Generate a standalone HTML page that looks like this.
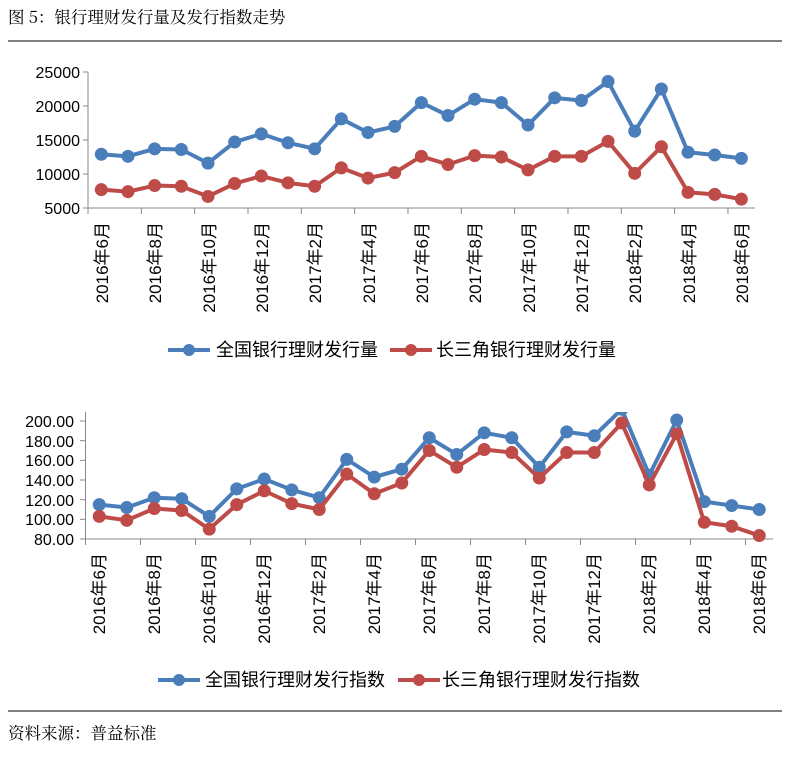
<!DOCTYPE html>
<html><head><meta charset="utf-8"><style>
html,body{margin:0;padding:0;background:#fff;}
svg{display:block;font-family:"Liberation Sans","Noto Sans CJK SC",sans-serif;}
.t{font-family:"Noto Serif CJK SC","WenQuanYi Zen Hei",serif;font-size:16.5px;fill:#000;}
.y{font-size:16px;text-anchor:end;fill:#000;}
.x{font-size:17px;text-anchor:end;fill:#000;}
.l{font-size:18px;fill:#000;font-family:"WenQuanYi Zen Hei","Noto Sans CJK SC",sans-serif;}
</style></head><body>
<svg id="s" width="796" height="758" viewBox="0 0 796 758" xmlns="http://www.w3.org/2000/svg">
<defs><clipPath id="c2"><rect x="80" y="412" width="700" height="140"/></clipPath></defs>
<text class="t" x="8" y="23">图 5：银行理财发行量及发行指数走势</text>
<line x1="8" y1="41" x2="782" y2="41" stroke="#000" stroke-width="1"/>
<line x1="8" y1="711" x2="782" y2="711" stroke="#000" stroke-width="1"/>
<text class="t" x="8" y="739">资料来源：普益标准</text>

<g stroke="#888" stroke-width="1" fill="none" id="ax1">
<line x1="88" y1="72" x2="88" y2="213"/>
<line x1="88" y1="208" x2="755" y2="208"/>
</g>
<g class="y">
<text class="y" x="80" y="78">25000</text>
<text class="y" x="80" y="112">20000</text>
<text class="y" x="80" y="146">15000</text>
<text class="y" x="80" y="180">10000</text>
<text class="y" x="80" y="214">5000</text>
</g>
<g id="xl1">
<text class="x" transform="translate(108,222) rotate(-90)">2016年6月</text>
<text class="x" transform="translate(161,222) rotate(-90)">2016年8月</text>
<text class="x" transform="translate(215,222) rotate(-90)">2016年10月</text>
<text class="x" transform="translate(268,222) rotate(-90)">2016年12月</text>
<text class="x" transform="translate(321,222) rotate(-90)">2017年2月</text>
<text class="x" transform="translate(375,222) rotate(-90)">2017年4月</text>
<text class="x" transform="translate(428,222) rotate(-90)">2017年6月</text>
<text class="x" transform="translate(481,222) rotate(-90)">2017年8月</text>
<text class="x" transform="translate(535,222) rotate(-90)">2017年10月</text>
<text class="x" transform="translate(588,222) rotate(-90)">2017年12月</text>
<text class="x" transform="translate(641,222) rotate(-90)">2018年2月</text>
<text class="x" transform="translate(695,222) rotate(-90)">2018年4月</text>
<text class="x" transform="translate(748,222) rotate(-90)">2018年6月</text>
</g>
<line x1="168" y1="350" x2="210" y2="350" stroke="#4a7ebb" stroke-width="4"/>
<circle cx="189" cy="350" r="6" fill="#4a7ebb"/>
<text class="l" x="216" y="356">全国银行理财发行量</text>
<line x1="390" y1="350" x2="432" y2="350" stroke="#be4b48" stroke-width="4"/>
<circle cx="411" cy="350" r="6" fill="#be4b48"/>
<text class="l" x="436" y="356">长三角银行理财发行量</text>

<g stroke="#888" stroke-width="1" fill="none">
<line x1="85.5" y1="412" x2="85.5" y2="544"/>
<line x1="85.5" y1="539" x2="773" y2="539"/>
</g>
<text class="y" x="74" y="427">200.00</text>
<text class="y" x="74" y="447">180.00</text>
<text class="y" x="74" y="466">160.00</text>
<text class="y" x="74" y="486">140.00</text>
<text class="y" x="74" y="506">120.00</text>
<text class="y" x="74" y="525">100.00</text>
<text class="y" x="74" y="545">80.00</text>
<g>
<text class="x" transform="translate(105,553) rotate(-90)">2016年6月</text>
<text class="x" transform="translate(160,553) rotate(-90)">2016年8月</text>
<text class="x" transform="translate(215,553) rotate(-90)">2016年10月</text>
<text class="x" transform="translate(270,553) rotate(-90)">2016年12月</text>
<text class="x" transform="translate(325,553) rotate(-90)">2017年2月</text>
<text class="x" transform="translate(380,553) rotate(-90)">2017年4月</text>
<text class="x" transform="translate(435,553) rotate(-90)">2017年6月</text>
<text class="x" transform="translate(490,553) rotate(-90)">2017年8月</text>
<text class="x" transform="translate(545,553) rotate(-90)">2017年10月</text>
<text class="x" transform="translate(600,553) rotate(-90)">2017年12月</text>
<text class="x" transform="translate(655,553) rotate(-90)">2018年2月</text>
<text class="x" transform="translate(710,553) rotate(-90)">2018年4月</text>
<text class="x" transform="translate(765,553) rotate(-90)">2018年6月</text>
</g>
<line x1="158" y1="680" x2="200" y2="680" stroke="#4a7ebb" stroke-width="4"/>
<circle cx="179" cy="680" r="6" fill="#4a7ebb"/>
<text class="l" x="205" y="686">全国银行理财发行指数</text>
<line x1="398" y1="680" x2="440" y2="680" stroke="#be4b48" stroke-width="4"/>
<circle cx="419" cy="680" r="6" fill="#be4b48"/>
<text class="l" x="442" y="686">长三角银行理财发行指数</text>
</svg>
<script>
(function(){
var NS="http://www.w3.org/2000/svg",s=document.getElementById("s");
function el(n,a,p){var e=document.createElementNS(NS,n);for(var k in a)e.setAttribute(k,a[k]);(p||s).appendChild(e);return e;}
for(var i=0;i<=12;i++){var x=88+i*53.33;el("line",{x1:x,y1:208,x2:x,y2:214,stroke:"#888"});}
for(var i=0;i<=12;i++){var x=85.5+i*55;el("line",{x1:x,y1:539,x2:x,y2:545,stroke:"#888"});}
[72,106,140,174,208].forEach(function(y){el("line",{x1:83,y1:y,x2:88,y2:y,stroke:"#888"});});
for(var i=0;i<7;i++){var y=421+i*19.67;el("line",{x1:80,y1:y,x2:85.5,y2:y,stroke:"#888"});}
function series(d,fx,fy,col,g){var pts=d.map(function(v,i){return fx(i)+","+fy(v);}).join(" ");
el("polyline",{points:pts,fill:"none",stroke:col,"stroke-width":4,"stroke-linejoin":"round"},g);
d.forEach(function(v,i){el("circle",{cx:fx(i),cy:fy(v),r:6.5,fill:col},g);});}
var b1=[12900,12600,13700,13600,11600,14700,15900,14600,13700,18100,16100,17000,20500,18600,21000,20500,17200,21200,20800,23600,16300,22500,13200,12800,12300];
var r1=[7700,7400,8300,8200,6700,8600,9700,8700,8200,10900,9400,10200,12600,11400,12700,12500,10600,12600,12600,14800,10100,14000,7300,7000,6300];
var fx1=function(i){return 101.3+i*26.67;},fy1=function(v){return 72+(25000-v)*0.0068;};
series(b1,fx1,fy1,"#4a7ebb");series(r1,fx1,fy1,"#be4b48");
var b2=[115,112,122,121,103,131,141,130,122,161,143,151,183,166,188,183,153,189,185,212,145,201,118,114,110];
var r2=[103,99,111,109,90,115,129,116,110,146,126,137,170,153,171,168,142,168,168,198,135,187,97,93,83.5];
var g=el("g",{"clip-path":"url(#c2)"});
var fx2=function(i){return 99.25+i*27.5;},fy2=function(v){return 539-(v-80)*0.983;};
series(b2,fx2,fy2,"#4a7ebb",g);series(r2,fx2,fy2,"#be4b48",g);
})();
</script>
</body></html>
